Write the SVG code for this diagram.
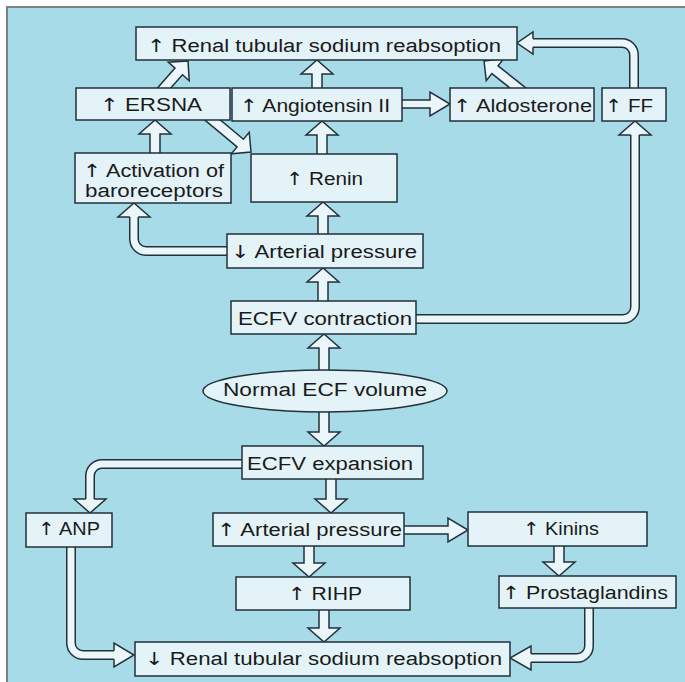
<svg xmlns="http://www.w3.org/2000/svg" width="685" height="682" viewBox="0 0 685 682">
  <style>
    .box { fill: #e3f3f7; stroke: #22313a; stroke-width: 1.5; }
    .blk { fill: #eaf6fa; stroke: #22313a; stroke-width: 1.5; stroke-linejoin: miter; }
    .shaft-o { fill: none; stroke: #22313a; stroke-width: 10; }
    .shaft-i { fill: none; stroke: #eaf6fa; stroke-width: 7; }
    .lbl { font-family: "Liberation Sans", Arial, sans-serif; font-size: 18px; fill: #1a1a1a; }
    .ar { font-family: "DejaVu Sans", sans-serif; }
  </style>

  <!-- frame -->
  <rect x="0" y="0" width="685" height="682" fill="#ffffff"/>
  <rect x="7" y="7" width="678" height="675" fill="#a7dbe8"/>
  <path d="M7,682 V7 H685" fill="none" stroke="#808080" stroke-width="2"/>

  <g id="connectors">
    <!-- straight vertical arrows (upward) -->
    <polygon class="blk" points="312,94 312,74 301,74 317,60 333,74 322,74 322,94"/>
    <polygon class="blk" points="150,158 150,134 139,134 155,120 171,134 160,134 160,158"/>
    <polygon class="blk" points="317,158 317,135 306,135 322,121 338,135 327,135 327,158"/>
    <polygon class="blk" points="318,238 318,216 307,216 323,202 339,216 328,216 328,238"/>
    <polygon class="blk" points="318,306 318,282 307,282 323,268 339,282 328,282 328,306"/>
    <polygon class="blk" points="319,376 319,348 308,348 324,334 340,348 329,348 329,376"/>
    <!-- straight vertical arrows (downward) -->
    <polygon class="blk" points="319,406 319,432 308,432 324,446 340,432 329,432 329,406"/>
    <polygon class="blk" points="326,475 326,499 315,499 331,513 347,499 336,499 336,475"/>
    <polygon class="blk" points="304,542 304,563 293,563 309,577 325,563 314,563 314,542"/>
    <polygon class="blk" points="319,606 319,628 308,628 324,642 340,628 329,628 329,606"/>
    <polygon class="blk" points="554,542 554,562 543,562 559,576 575,562 564,562 564,542"/>
    <!-- straight horizontal arrows -->
    <polygon class="blk" points="398,100 430,100 430,92 450,104 430,116 430,108 398,108"/>
    <polygon class="blk" points="400,526 448,526 448,518 468,530 448,542 448,534 400,534"/>
    <!-- diagonal arrows -->
    <polygon class="blk" transform="translate(157,96) rotate(-48.5)" points="0,-5 32.8,-5 32.8,-14 46.8,0 32.8,14 32.8,5 0,5"/>
    <polygon class="blk" transform="translate(528,96) rotate(-141.5)" points="0,-5 42.2,-5 42.2,-14 56.2,0 42.2,14 42.2,5 0,5"/>
    <polygon class="blk" transform="translate(203,112) rotate(39.8)" points="0,-5 48.5,-5 48.5,-14 62.5,0 48.5,14 48.5,5 0,5"/>

    <!-- elbow: FF to top reabsorption -->
    <path class="shaft-o" d="M634,96 V55 A12,12 0 0 0 622,43 H533"/>
    <path class="shaft-i" d="M634,96 V55 A12,12 0 0 0 622,43 H533"/>
    <path class="blk" d="M533,38.75 V32 L517,43 L533,54 V47.25"/>
    <!-- elbow: ECFV contraction to FF -->
    <path class="shaft-o" d="M410,319 H623 A12,12 0 0 0 635,307 V135"/>
    <path class="shaft-i" d="M410,319 H623 A12,12 0 0 0 635,307 V135"/>
    <path class="blk" d="M630.75,135 H619 L635,121 L651,135 H639.25"/>
    <!-- elbow: decreased arterial pressure to baroreceptors -->
    <path class="shaft-o" d="M233,251 H146 A12,12 0 0 1 134,239 V217"/>
    <path class="shaft-i" d="M233,251 H146 A12,12 0 0 1 134,239 V217"/>
    <path class="blk" d="M129.75,217 H118 L134,203 L150,217 H138.25"/>
    <!-- elbow: ECFV expansion to ANP -->
    <path class="shaft-o" d="M248,464 H102 A12,12 0 0 0 90,476 V499"/>
    <path class="shaft-i" d="M248,464 H102 A12,12 0 0 0 90,476 V499"/>
    <path class="blk" d="M85.75,499 H74 L90,513 L106,499 H94.25"/>
    <!-- elbow: ANP to bottom reabsorption -->
    <path class="shaft-o" d="M71,540 V643 A12,12 0 0 0 83,655 H114"/>
    <path class="shaft-i" d="M71,540 V643 A12,12 0 0 0 83,655 H114"/>
    <path class="blk" d="M114,650.75 V643 L134,655 L114,667 V659.25"/>
    <!-- elbow: prostaglandins to bottom reabsorption -->
    <path class="shaft-o" d="M589,602 V646 A12,12 0 0 1 577,658 H531"/>
    <path class="shaft-i" d="M589,602 V646 A12,12 0 0 1 577,658 H531"/>
    <path class="blk" d="M531,653.75 V646 L510,658 L531,670 V662.25"/>
  </g>

  <g id="renal-top">
    <rect class="box" x="136" y="27" width="381" height="33"/>
    <text class="lbl" x="147" y="52" textLength="354" lengthAdjust="spacingAndGlyphs"><tspan class="ar">↑</tspan> Renal tubular sodium reabsoption</text>
  </g>
  <g id="ersna">
    <rect class="box" x="76" y="88" width="154" height="32"/>
    <text class="lbl" x="100" y="111" textLength="102" lengthAdjust="spacingAndGlyphs"><tspan class="ar">↑</tspan> ERSNA</text>
  </g>
  <g id="angiotensin">
    <rect class="box" x="232" y="88" width="170" height="33"/>
    <text class="lbl" x="240" y="112" textLength="150" lengthAdjust="spacingAndGlyphs"><tspan class="ar">↑</tspan> Angiotensin II</text>
  </g>
  <g id="aldosterone">
    <rect class="box" x="450" y="88" width="144" height="33"/>
    <text class="lbl" x="453" y="112" textLength="139" lengthAdjust="spacingAndGlyphs"><tspan class="ar">↑</tspan> Aldosterone</text>
  </g>
  <g id="ff">
    <rect class="box" x="602" y="88" width="64" height="33"/>
    <text class="lbl" x="605" y="112" textLength="48" lengthAdjust="spacingAndGlyphs"><tspan class="ar">↑</tspan> FF</text>
  </g>
  <g id="baroreceptors">
    <rect class="box" x="75" y="153" width="156" height="50"/>
    <text class="lbl" x="83" y="177" textLength="141" lengthAdjust="spacingAndGlyphs"><tspan class="ar">↑</tspan> Activation of</text>
    <text class="lbl" x="85" y="197" textLength="138" lengthAdjust="spacingAndGlyphs">baroreceptors</text>
  </g>
  <g id="renin">
    <rect class="box" x="251" y="154" width="146" height="48"/>
    <text class="lbl" x="286" y="185" textLength="77" lengthAdjust="spacingAndGlyphs"><tspan class="ar">↑</tspan> Renin</text>
  </g>
  <g id="arterial-down">
    <rect class="box" x="227" y="234" width="196" height="34"/>
    <text class="lbl" x="231" y="258" textLength="186" lengthAdjust="spacingAndGlyphs"><tspan class="ar">↓</tspan> Arterial pressure</text>
  </g>
  <g id="ecfv-contraction">
    <rect class="box" x="231" y="301" width="185" height="33"/>
    <text class="lbl" x="238" y="325" textLength="174" lengthAdjust="spacingAndGlyphs">ECFV contraction</text>
  </g>
  <g id="normal-ecf">
    <ellipse class="box" cx="325" cy="391" rx="122" ry="21"/>
    <text class="lbl" x="223" y="396" textLength="204" lengthAdjust="spacingAndGlyphs">Normal ECF volume</text>
  </g>
  <g id="ecfv-expansion">
    <rect class="box" x="242" y="446" width="181" height="33"/>
    <text class="lbl" x="247" y="470" textLength="166" lengthAdjust="spacingAndGlyphs">ECFV expansion</text>
  </g>
  <g id="anp">
    <rect class="box" x="26" y="513" width="86" height="34"/>
    <text class="lbl" x="38" y="535" textLength="62" lengthAdjust="spacingAndGlyphs"><tspan class="ar">↑</tspan> ANP</text>
  </g>
  <g id="arterial-up">
    <rect class="box" x="213" y="513" width="191" height="33"/>
    <text class="lbl" x="217" y="536" textLength="185" lengthAdjust="spacingAndGlyphs"><tspan class="ar">↑</tspan> Arterial pressure</text>
  </g>
  <g id="rihp">
    <rect class="box" x="236" y="577" width="174" height="33"/>
    <text class="lbl" x="288" y="600" textLength="74" lengthAdjust="spacingAndGlyphs"><tspan class="ar">↑</tspan> RIHP</text>
  </g>
  <g id="kinins">
    <rect class="box" x="468" y="512" width="179" height="34"/>
    <text class="lbl" x="523" y="535" textLength="76" lengthAdjust="spacingAndGlyphs"><tspan class="ar">↑</tspan> Kinins</text>
  </g>
  <g id="prostaglandins">
    <rect class="box" x="499" y="576" width="177" height="32"/>
    <text class="lbl" x="502" y="599" textLength="166" lengthAdjust="spacingAndGlyphs"><tspan class="ar">↑</tspan> Prostaglandins</text>
  </g>
  <g id="renal-bottom">
    <rect class="box" x="135" y="642" width="375" height="34"/>
    <text class="lbl" x="145" y="665" textLength="357" lengthAdjust="spacingAndGlyphs"><tspan class="ar">↓</tspan> Renal tubular sodium reabsoption</text>
  </g>
</svg>
